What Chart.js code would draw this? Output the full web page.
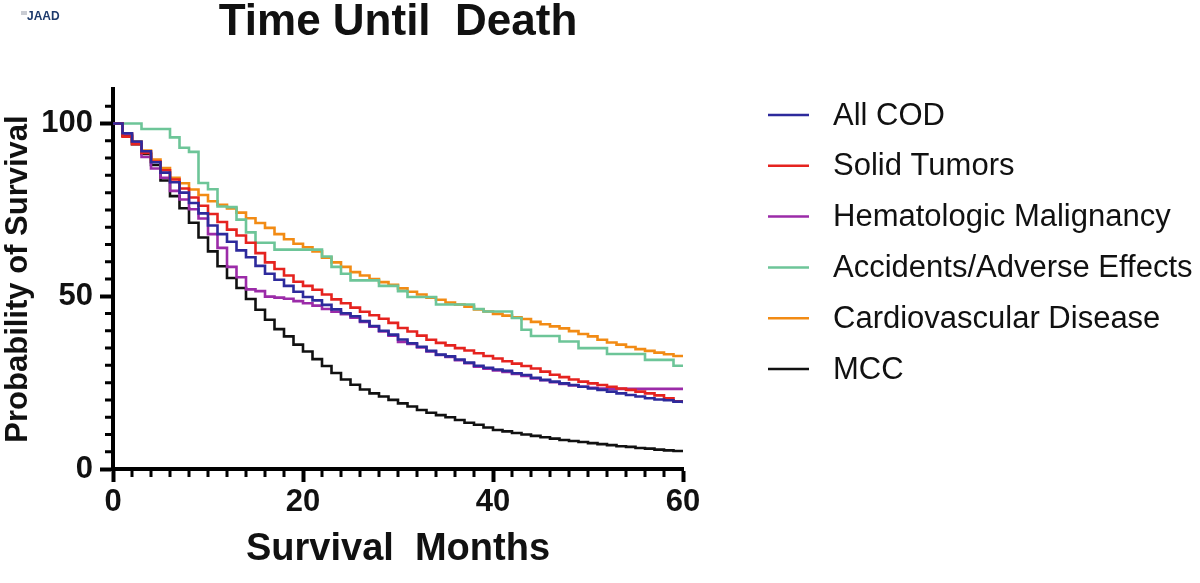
<!DOCTYPE html>
<html>
<head>
<meta charset="utf-8">
<title>Time Until Death</title>
<script src="https://cdn.jsdelivr.net/npm/chart.js@4.4.1/dist/chart.umd.min.js"></script>
<style>
    html, body { margin: 0; padding: 0; background: #fff; }
    #chart-container { width: 1200px; height: 583px; }
</style>
</head>
<body>
<div id="chart-container"><canvas id="km-chart" width="1200" height="583"></canvas></div>
<script>
var months = [0,1,2,3,4,5,6,7,8,9,10,11,12,13,14,15,16,17,18,19,20,21,22,23,24,25,26,27,28,29,30,
              31,32,33,34,35,36,37,38,39,40,41,42,43,44,45,46,47,48,49,50,51,52,53,54,55,56,57,58,59,60];

var allCod = [100,97.2,94.8,92,88.8,85.8,83,80,77,74,70.5,68,65.8,63.3,61.3,58.8,56.5,54.8,53,51.3,49.8,
              48.8,47.5,46.2,45.1,44.2,42.8,41.4,40,38.9,37.5,36.4,35.4,34.2,33.1,32.6,31.7,30.8,29.9,29.3,28.8,
              28.4,27.7,27.2,26.4,25.8,25.3,24.8,24.3,23.8,23.3,22.9,22.4,21.9,21.4,21,20.5,20.1,19.9,19.5,19];
var solidTumors = [100,96.2,94,91.5,89,86.5,83.8,81.2,78.6,76.2,73.8,71.5,69.3,67.6,65.5,62.5,59.8,57.9,56,54.2,53,
              51.9,50.5,49.1,48,46.7,45.5,44.5,43.5,42.3,40.8,39.8,38.6,37.4,36.5,35.8,35,34.3,33.5,32.7,32,
              31.2,30.5,29.8,29.1,28.2,27.3,26.6,25.9,25.3,24.8,24.3,23.8,23.3,22.9,22.4,21.9,21.3,20.5,19.6,19.1];
var hemeMalignancy = [100,97,94.5,90.3,87,84.3,80.5,78,75.2,72.5,68,64,58.5,55.5,52,51.5,49.9,49.6,49.3,48.6,48,
              47.3,46.3,45.5,44.8,43.8,42.6,41.2,39.8,38.6,36.8,36.2,35.2,34,33,32.4,31.5,30.6,29.6,29,28.5,
              28.1,27.5,26.9,26.2,25.7,25.1,24.6,24.2,23.8,23.5,23.3,23.2,23.2,23.2,23.2,23.2,23.2,23.2,23.2,23.2];
var accidents = [100,100,100,98.4,98.4,98.4,96,93,91.8,82.8,81,76,75.8,72.2,68.5,65.5,65.5,63.5,63.5,63.5,63.5,
              63.5,61.5,58.5,56.5,54.6,54.6,54.6,53,53,51.5,49.8,49.8,49.8,47.6,47.6,47.6,47.6,46.3,45.6,45.6,
              45.6,43.7,40.3,38.5,38.5,38.5,36.9,36.9,35,35,35,33.3,33.3,33.3,33.3,31.6,31.6,31.6,29.9,29.9];
var cardio = [100,97,94.8,92.2,89.6,87.1,84.3,82.7,80.9,79.3,77.5,76.5,75.4,74.2,72.6,71.2,69.8,68,66.5,65.2,64.2,
              63,61.2,59.8,58.5,57,56,55,54.1,53.3,52.3,51.3,50.5,49.6,49,48.2,47.6,47,46.2,45.6,44.9,
              44.4,43.9,43.4,42.6,41.9,41.3,40.7,39.9,39.1,38.4,37.4,36.6,36,35.3,34.7,34.2,33.7,33.2,32.7,32.4];
var mcc = [100,96.5,94,91.2,88,83.5,79,75.5,71.3,67,63,58.7,55.3,52.4,49.2,46.1,43.2,40.5,38.4,36,34,
              31.8,29.8,27.8,25.9,24.4,23,21.9,21,20,19,18.1,17.1,16.3,15.6,15,14.2,13.4,12.8,12,11.3,
              10.9,10.4,10,9.6,9.2,8.8,8.4,8.1,7.8,7.5,7.2,6.9,6.6,6.4,6.1,5.9,5.6,5.4,5.2,5];

var seriesNames = ['All COD', 'Solid Tumors', 'Hematologic Malignancy', 'Accidents/Adverse Effects', 'Cardiovascular Disease', 'MCC'];
var seriesValues = [allCod, solidTumors, hemeMalignancy, accidents, cardio, mcc];
var seriesColors = ['#2d2a9c', '#e5231f', '#9b2ba8', '#6dc598', '#f28b14', '#111111'];

var xTicks = [0, 20, 40, 60];
var yTicks = [0, 50, 100];

var fontFamily = "'Liberation Sans', Arial, Helvetica, sans-serif";

function toPoints(vals) {
    return months.map(function(m, i) {
        return { x: m, y: vals[i] };
    });
}

// minor ticks every 2 months / every 5 %
var minorTicks = {
    id: 'minorTicks',
    afterDraw: function(chart) {
        var ctx = chart.ctx;
        var xs = chart.scales.x, ys = chart.scales.y;
        var area = chart.chartArea;
        ctx.save();
        ctx.strokeStyle = '#000';
        ctx.lineWidth = 3;
        ctx.beginPath();
        for (var m = 2; m < 60; m += 2) {
            if (xTicks.indexOf(m) >= 0) continue;
            var px = xs.getPixelForValue(m);
            ctx.moveTo(px, area.bottom);
            ctx.lineTo(px, area.bottom + 8);
        }
        for (var v = 5; v <= 105; v += 5) {
            if (yTicks.indexOf(v) >= 0) continue;
            var py = ys.getPixelForValue(v);
            ctx.moveTo(area.left, py);
            ctx.lineTo(area.left - 8, py);
        }
        ctx.stroke();
        ctx.restore();
    }
};

// legend with short line swatches on the right
var lineLegend = {
    id: 'lineLegend',
    afterDraw: function(chart) {
        var ctx = chart.ctx;
        ctx.save();
        ctx.font = '31px ' + fontFamily;
        ctx.textBaseline = 'middle';
        ctx.fillStyle = '#111';
        chart.data.datasets.forEach(function(ds, i) {
            var y = 115 + i * 50.8;
            ctx.strokeStyle = ds.borderColor;
            ctx.lineWidth = 2.5;
            ctx.beginPath();
            ctx.moveTo(768, y);
            ctx.lineTo(809, y);
            ctx.stroke();
            ctx.fillText(ds.label, 833, y + 1);
        });
        ctx.restore();
    }
};

var logoText = {
    id: 'logoText',
    afterDraw: function(chart) {
        var ctx = chart.ctx;
        ctx.save();
        ctx.fillStyle = '#c9ccd3';
        ctx.fillRect(21, 11, 6, 4);
        ctx.font = 'bold 12px ' + fontFamily;
        ctx.fillStyle = '#1d3a6c';
        ctx.textBaseline = 'middle';
        ctx.fillText('JAAD', 27, 17);
        ctx.restore();
    }
};

var datasets = seriesNames.map(function(name, i) {
    return {
        label: name,
        data: toPoints(seriesValues[i]),
        borderColor: seriesColors[i],
        backgroundColor: seriesColors[i],
        borderWidth: 2.6,
        pointRadius: 0,
        stepped: 'before',
        fill: false
    };
});

var ctx = document.getElementById('km-chart').getContext('2d');
new Chart(ctx, {
    type: 'line',
    data: { datasets: datasets },
    options: {
        responsive: false,
        animation: false,
        layout: { padding: { left: 0, right: 517, top: 0, bottom: 0 } },
        plugins: {
            legend: { display: false },
            tooltip: { enabled: false },
            title: {
                display: true,
                text: 'Time Until  Death',
                fullSize: false,
                color: '#111',
                font: { family: fontFamily, size: 44, weight: 'bold', lineHeight: 1 },
                padding: { top: 1, bottom: 44 }
            }
        },
        scales: {
            x: {
                type: 'linear',
                min: 0,
                max: 60,
                afterFit: function(scale) { scale.height = 114; },
                afterBuildTicks: function(scale) {
                    scale.ticks = xTicks.map(function(v) { return { value: v }; });
                },
                border: { display: true, width: 4, color: '#000' },
                grid: { drawOnChartArea: false, drawTicks: true, tickLength: 13, tickWidth: 4, tickColor: '#000' },
                ticks: {
                    color: '#111',
                    padding: 2,
                    maxRotation: 0,
                    autoSkip: false,
                    font: { family: fontFamily, size: 31, weight: 'bold' }
                },
                title: {
                    display: true,
                    text: 'Survival  Months',
                    color: '#111',
                    font: { family: fontFamily, size: 38, weight: 'bold' },
                    padding: { top: 0, bottom: 11 }
                }
            },
            y: {
                min: 0,
                max: 110,
                afterFit: function(scale) { scale.width = 113; },
                afterBuildTicks: function(scale) {
                    scale.ticks = yTicks.map(function(v) { return { value: v }; });
                },
                border: { display: true, width: 4, color: '#000' },
                grid: { drawOnChartArea: false, drawTicks: true, tickLength: 13, tickWidth: 4, tickColor: '#000' },
                ticks: {
                    color: '#111',
                    padding: 7,
                    font: { family: fontFamily, size: 31, weight: 'bold' }
                },
                title: {
                    display: true,
                    text: 'Probability of Survival',
                    color: '#111',
                    font: { family: fontFamily, size: 31, weight: 'bold' },
                    padding: { top: 0, bottom: 0 }
                }
            }
        }
    },
    plugins: [minorTicks, lineLegend, logoText]
});
</script>
</body>
</html>
